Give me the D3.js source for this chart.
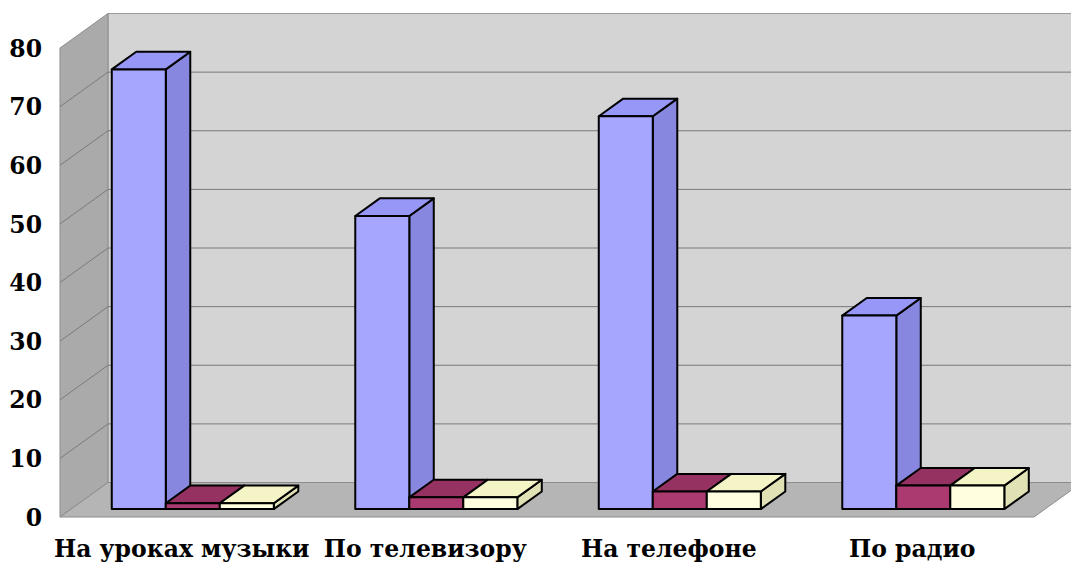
<!DOCTYPE html>
<html><head><meta charset="utf-8">
<script src="https://cdn.jsdelivr.net/npm/d3@7"></script>
<style>html,body{margin:0;padding:0;background:#fff;}svg{display:block;}</style>
</head><body><div id="chart"></div>
<script>
const categories = ["На уроках музыки", "По телевизору", "На телефоне", "По радио"];
const seriesNames = ["s1", "s2", "s3"];
const series1 = [75, 50, 67, 33];
const series2 = [1, 2, 3, 4];
const series3 = [1, 2, 3, 4];
const yTicks = [0, 10, 20, 30, 40, 50, 60, 70, 80];

const W = 1071, H = 564;
const DX = 48, DY = 34.5;       // depth projection offsets
const Z0 = 0.23, Z1 = 0.74;     // bar depth range
const faces = {
  s1: {front: "#A6A6FF", top: "#9797F7", side: "#8787E0"},
  s2: {front: "#AA3A70", top: "#963261", side: "#7A2850"},
  s3: {front: "#FFFFE0", top: "#F4F4C6", side: "#E1E1B6"}
};

const svg = d3.select("#chart").append("svg").attr("width", W).attr("height", H);
const x0 = d3.scaleBand().domain(categories).range([60, 1034]).padding(0);
const x1 = d3.scaleBand().domain(seriesNames).range([0, x0.bandwidth()]).paddingInner(0).paddingOuter(0.754);
const y = d3.scaleLinear().domain([0, 80]).range([517, 48]);
const P = (xx, yy, z) => [xx + z * DX, yy - z * DY];
const poly = pts => "M" + pts.map(p => p.join(",")).join("L") + "Z";

const xL = x0.range()[0], xR = x0.range()[1];
// back wall
svg.append("path").attr("d", poly([P(xL, y(0), 1), P(xL, y(80), 1), P(xR, y(80), 1), P(xR, y(0), 1)]))
  .attr("fill", "#D4D4D4").attr("stroke", "#9A9A9A").attr("stroke-width", 1);
// left wall
svg.append("path").attr("d", poly([P(xL, y(0), 0), P(xL, y(80), 0), P(xL, y(80), 1), P(xL, y(0), 1)]))
  .attr("fill", "#AAAAAA").attr("stroke", "#8C8C8C").attr("stroke-width", 1);
// floor
svg.append("path").attr("d", poly([P(xL, y(0), 0), P(xR, y(0), 0), P(xR, y(0), 1), P(xL, y(0), 1)]))
  .attr("fill", "#B5B5B5").attr("stroke", "#8C8C8C").attr("stroke-width", 1);

// gridlines
const grid = svg.append("g");
yTicks.filter(t => t > 0 && t < 80).forEach(t => {
  const a = P(xL, y(t), 0), b = P(xL, y(t), 1), c = P(xR, y(t), 1);
  grid.append("path").attr("d", `M${a}L${b}L${c}`).attr("fill", "none")
    .attr("stroke", "#7A7A7A").attr("stroke-width", 1);
});

// bars
const data = [];
categories.forEach((c, i) => {
  [series1, series2, series3].forEach((s, j) => data.push({cat: c, ser: seriesNames[j], v: s[i]}));
});
const bars = svg.append("g");
data.forEach(d => {
  const xa = x0(d.cat) + x1(d.ser), xb = xa + x1.bandwidth();
  const yb = y(0), yt = y(d.v);
  const f = faces[d.ser];
  const g = bars.append("g").attr("stroke", "#000").attr("stroke-width", 2).attr("stroke-linejoin", "round");
  g.append("path").attr("d", poly([P(xb, yb, Z0), P(xb, yt, Z0), P(xb, yt, Z1), P(xb, yb, Z1)])).attr("fill", f.side);
  g.append("path").attr("d", poly([P(xa, yt, Z0), P(xb, yt, Z0), P(xb, yt, Z1), P(xa, yt, Z1)])).attr("fill", f.top);
  g.append("path").attr("d", poly([P(xa, yb, Z0), P(xb, yb, Z0), P(xb, yt, Z0), P(xa, yt, Z0)])).attr("fill", f.front);
});

// y axis labels
const yAxis = d3.axisLeft(y).tickValues(yTicks).tickSize(0).tickPadding(0).tickFormat(d3.format("d"));
const ya = svg.append("g").attr("transform", "translate(42,0)").call(yAxis);
ya.select(".domain").remove();
ya.selectAll("text").attr("font-family", "DejaVu Serif").attr("font-weight", "bold")
  .attr("font-size", 23.5).attr("fill", "#000").attr("dy", "0.35em");

// x axis labels
const xAxis = d3.axisBottom(x0).tickSize(0).tickPadding(0);
const xa = svg.append("g").attr("transform", "translate(0,540)").call(xAxis);
xa.select(".domain").remove();
xa.selectAll("text").attr("font-family", "DejaVu Serif").attr("font-weight", "bold")
  .attr("font-size", 23.5).attr("fill", "#000").attr("dy", "0.71em");
</script></body></html>
